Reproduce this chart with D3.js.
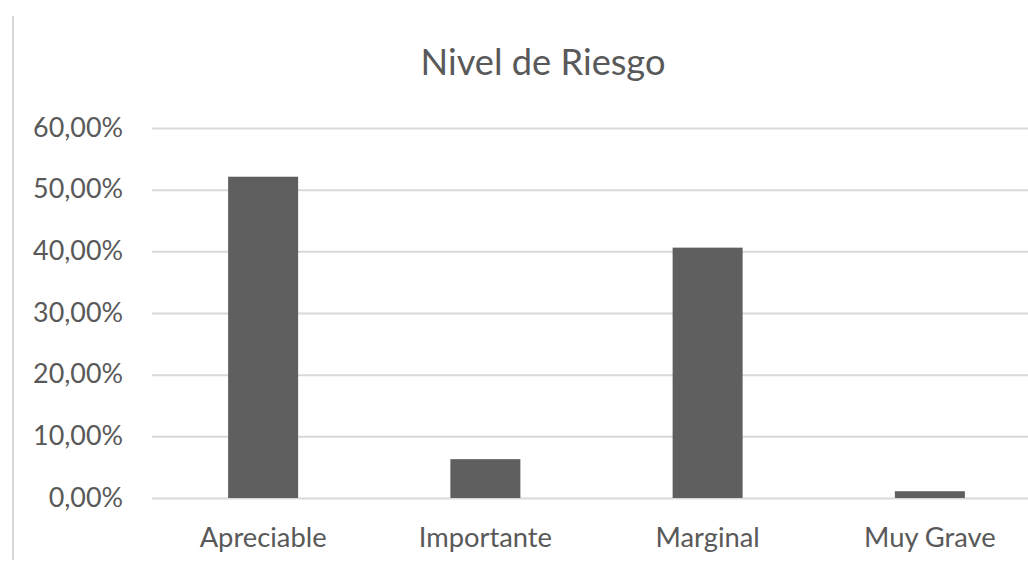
<!DOCTYPE html>
<html>
<head>
<meta charset="utf-8">
<script src="https://cdn.jsdelivr.net/npm/d3@7"></script>
<style>
  html, body { margin: 0; padding: 0; background: #fff; overflow: hidden; }
  svg { display: block; }
</style>
</head>
<body>
<svg id="chart" width="1028" height="562"></svg>
<script>
const categories = ["Apreciable", "Importante", "Marginal", "Muy Grave"];
const values = [0.521, 0.063, 0.406, 0.011];
const yTicks = [0, 0.1, 0.2, 0.3, 0.4, 0.5, 0.6];
const title = "Nivel de Riesgo";

const svg = d3.select("#chart");
const font = "Lato, 'Open Sans', sans-serif";
const textColor = "#595959";

const x = d3.scaleBand().domain(categories).range([152, 1041]).paddingInner(0.685).paddingOuter(0.3425);
const y = d3.scaleLinear().domain([0, 0.6]).range([498, 128]);

// left border of chart area
svg.append("line")
  .attr("x1", 13).attr("x2", 13).attr("y1", 16).attr("y2", 560)
  .attr("stroke", "#d9d9d9").attr("stroke-width", 2);

// gridlines
const grid = d3.axisLeft(y).tickValues(yTicks).tickSize(-(1041 - 152)).tickFormat("");
const gG = svg.append("g").attr("transform", "translate(152,0)").call(grid);
gG.select(".domain").remove();
gG.selectAll(".tick line").attr("stroke", "#d9d9d9").attr("stroke-width", 2);

// helper to fit font size to a target width
function fitSize(sample, target, base) {
  const t = svg.append("text").attr("font-family", font).attr("font-size", base).text(sample);
  const w = t.node().getComputedTextLength();
  t.remove();
  return base * target / w;
}

// y labels
const fmt = v => d3.format(".2f")(v * 100).replace(".", ",") + "%";
const ySize = fitSize("60,00%", 90, 20);
const yAxis = d3.axisLeft(y).tickValues(yTicks).tickSize(0).tickPadding(0).tickFormat(fmt);
const yG = svg.append("g").attr("transform", "translate(123,0)").call(yAxis);
yG.select(".domain").remove();
yG.selectAll("text")
  .attr("font-family", font).attr("font-size", ySize)
  .attr("fill", textColor).attr("dy", "0.3em");

// bars
svg.append("g").selectAll("rect").data(values).join("rect")
  .attr("x", (d, i) => x(categories[i]))
  .attr("width", x.bandwidth())
  .attr("y", d => y(d))
  .attr("height", d => y(0) - y(d))
  .attr("fill", "#5f5f5f");

// x labels
const xSize = fitSize("Apreciable", 127, 20);
const xAxis = d3.axisBottom(x).tickSize(0).tickPadding(0);
const xG = svg.append("g").attr("transform", "translate(0,547)").call(xAxis);
xG.select(".domain").remove();
xG.selectAll("text")
  .attr("font-family", font).attr("font-size", xSize)
  .attr("fill", textColor).attr("dy", "0");

// title
const tSize = fitSize(title, 245, 28);
svg.append("text")
  .attr("x", 543).attr("y", 75)
  .attr("text-anchor", "middle")
  .attr("font-family", font).attr("font-size", tSize)
  .attr("fill", textColor)
  .text(title);
</script>
</body>
</html>
